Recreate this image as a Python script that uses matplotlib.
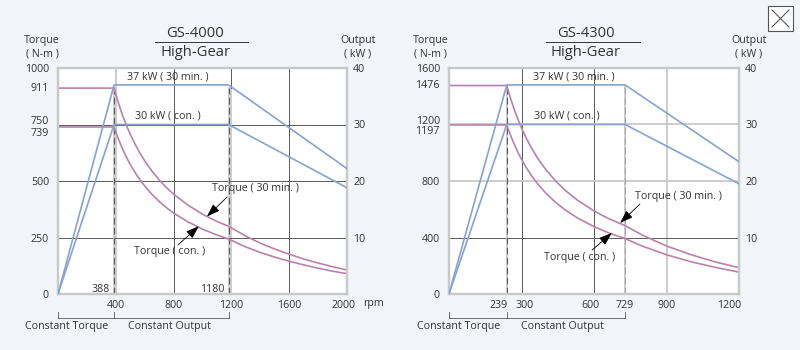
import matplotlib
matplotlib.use("Agg")
import matplotlib.pyplot as plt
from matplotlib.lines import Line2D
from matplotlib.patches import Rectangle
from matplotlib.transforms import ScaledTranslation, blended_transform_factory

# ---- GS-4000 (left) ----
gs4000_rpm = [0, 388, 400, 415, 430, 450, 475, 500, 530, 560, 600, 650, 700, 750, 800,
              900, 1000, 1100, 1180, 1300, 1400, 1500, 1600, 1700, 1800, 1900, 2000]
gs4000_torque_30 = [911, 911, 884, 852, 822, 785, 744, 707, 667, 631, 589, 544, 505, 471, 442,
                    393, 353, 321, 300, 256, 225, 199, 176, 155, 137, 121, 106]
gs4000_torque_con = [739, 739, 717, 691, 667, 637, 604, 573, 541, 512, 478, 441, 410, 382, 358,
                     319, 287, 261, 243, 208, 184, 163, 145, 129, 114, 101, 90]
gs4000_out_rpm = [0, 388, 1180, 2000]
gs4000_out_30 = [0, 37, 37, 22.2]
gs4000_out_con = [0, 30, 30, 18.8]

# ---- GS-4300 (right) ----
gs4300_rpm = [0, 239, 248, 258, 270, 285, 300, 320, 340, 365, 400, 440, 480, 530, 600, 660, 729,
              800, 900, 1000, 1100, 1200]
gs4300_torque_30 = [1476, 1476, 1422, 1367, 1307, 1238, 1176, 1102, 1038, 966, 882, 802, 735,
                    666, 588, 534, 484, 417, 340, 279, 228, 186]
gs4300_torque_con = [1197, 1197, 1154, 1109, 1060, 1004, 954, 894, 841, 784, 715, 650, 596,
                     540, 477, 433, 392, 339, 278, 229, 189, 155]
gs4300_out_rpm = [0, 239, 729, 1200]
gs4300_out_30 = [0, 37, 37, 23.4]
gs4300_out_con = [0, 30, 30, 19.5]

BG = "#f2f5f9"
TEXT = "#333333"
PURPLE = "#b982ab"
BLUE = "#86a3d3"
DARK = "#5a5a5a"
LIGHT = "#c9c9c9"
FS = 7.7

plt.rcParams["font.family"] = ["Open Sans", "DejaVu Sans"]
plt.rcParams["text.color"] = TEXT

fig = plt.figure(figsize=(8, 3.5), dpi=100, facecolor=BG)


def px(x, y):
    return x / 800, 1 - y / 350


def shift(label, dx=0, dy=0):
    label.set_transform(label.get_transform() + ScaledTranslation(dx / 100, dy / 100, fig.dpi_scale_trans))


def draw_chart(c):
    ax = fig.add_axes(c["rect"])
    ax.set_facecolor("white")
    ax.set_xlim(0, c["xmax"])
    ax.set_ylim(0, c["ymax"])
    ax2 = ax.twinx()
    ax2.set_ylim(0, 40)

    for a in (ax, ax2):
        for s in a.spines.values():
            s.set_color(LIGHT)
            s.set_linewidth(1.6)
        a.tick_params(length=0, labelsize=FS, colors=TEXT)

    top = c["torque_30"][0]

    # grid lines
    for x in c["vgrid_dark"]:
        ax.axvline(x, color=DARK, lw=0.7, zorder=1)
    for x in c["vgrid_light"]:
        ax.axvline(x, color=LIGHT, lw=1.3, zorder=1)
    for x in c["vgrid_split"]:
        ax.plot([x, x], [0, top], color=LIGHT, lw=1.3, zorder=1)
        ax.plot([x, x], [top, c["ymax"]], color=DARK, lw=0.7, zorder=1)
    for y in c["hgrid_dark"]:
        ax.axhline(y, color=DARK, lw=0.7, zorder=1)
    for y in c["hgrid_light"]:
        ax.axhline(y, color=LIGHT, lw=1.3, zorder=1)

    # dashed limits
    for x, col in zip(c["dash_x"], c["dash_col"]):
        ax.plot([x, x], [0, top], color=LIGHT, lw=1.3, zorder=1.5)
        ax.plot([x, x], [0, top], color=col, lw=0.8, dashes=(6, 3), zorder=1.6)

    ax.plot(c["rpm"], c["torque_30"], color=PURPLE, lw=1.2, zorder=3)
    ax.plot(c["rpm"], c["torque_con"], color=PURPLE, lw=1.2, zorder=3)
    ax2.plot(c["out_rpm"], c["out_30"], color=BLUE, lw=1.2, zorder=3)
    ax2.plot(c["out_rpm"], c["out_con"], color=BLUE, lw=1.2, zorder=3)

    # x ticks
    ax.set_xticks(c["xticks"])
    ax.tick_params(axis="x", pad=4)
    for lab, dx in zip(ax.get_xticklabels(), c["xtick_dx"]):
        shift(lab, dx=dx)
    for x in c["inner_ticks"]:
        ax.annotate(str(x), (x, 0), xytext=(-3, 3.6), textcoords="offset points",
                    ha="right", va="center", fontsize=FS)

    # y ticks (torque)
    ax.set_yticks(c["yticks"])
    ax.tick_params(axis="y", pad=6.5)
    for y, dy in zip(c["yextra"], c["yextra_dy"]):
        ax.annotate(str(y), (0, y), xycoords=("axes fraction", "data"),
                    xytext=(-6.5, dy), textcoords="offset points",
                    ha="right", va="center", fontsize=FS)
    ax2.set_yticks([10, 20, 30, 40])
    ax2.tick_params(axis="y", pad=4.5)

    # power labels
    ax2.annotate("37 kW ( 30 min. )", (c["kw_label_x"][0], 37), xytext=(0, 2),
                 textcoords="offset points", ha="center", va="bottom", fontsize=FS)
    ax2.annotate("30 kW ( con. )", (c["kw_label_x"][1], 30), xytext=(0, 2.5),
                 textcoords="offset points", ha="center", va="bottom", fontsize=FS)

    # torque callouts
    for text, pos, tip, tail in c["callouts"]:
        ax.text(pos[0], pos[1], text, ha="center", va="center", fontsize=FS, zorder=5)
        ax.annotate("", xy=tip, xytext=tail,
                    arrowprops=dict(arrowstyle="-|>,head_length=0.8,head_width=0.28",
                                    color="black", lw=0.6, mutation_scale=10,
                                    shrinkA=0, shrinkB=0), zorder=5)

    # bracket below
    tr = blended_transform_factory(ax.transData, ax.transAxes)
    b = c["bracket"]
    ax.plot([b[0], b[-1]], [-0.106, -0.106], color=DARK, lw=0.6, transform=tr, clip_on=False)
    for x in b:
        ax.plot([x, x], [-0.106, -0.078], color=DARK, lw=0.6, transform=tr, clip_on=False)
    for text, x in zip(["Constant Torque", "Constant Output"], c["bracket_label_x"]):
        ax.text(x, -0.146, text, transform=tr, ha="center", va="center", fontsize=FS)

    if c.get("rpm_label"):
        ax.annotate("rpm", (1, 0), xycoords="axes fraction", xytext=(11.5, -6.5),
                    textcoords="offset points", ha="left", va="center", fontsize=FS)

    # headers
    lx, rx, tx = c["header_x"]
    fig.text(*px(lx, 41), "Torque", ha="center", va="center", fontsize=FS)
    fig.text(*px(lx, 53.5), "( N-m )", ha="center", va="center", fontsize=FS)
    fig.text(*px(rx, 41), "Output", ha="center", va="center", fontsize=FS)
    fig.text(*px(rx, 53.5), "( kW )", ha="center", va="center", fontsize=FS)
    fig.text(*px(tx, 33.5), c["title"], ha="center", va="center", fontsize=10.6)
    fig.text(*px(tx, 53), "High-Gear", ha="center", va="center", fontsize=10.6)
    u0, u1 = c["underline"]
    fig.add_artist(Line2D([u0 / 800, u1 / 800], [1 - 42.3 / 350] * 2, color=TEXT, lw=0.7))


draw_chart(dict(
    rect=[58 / 800, 56 / 350, 289 / 800, 226 / 350], xmax=2000, ymax=1000,
    rpm=gs4000_rpm, torque_30=gs4000_torque_30, torque_con=gs4000_torque_con,
    out_rpm=gs4000_out_rpm, out_30=gs4000_out_30, out_con=gs4000_out_con,
    vgrid_dark=[800, 1600], vgrid_light=[400], vgrid_split=[1200],
    hgrid_dark=[250, 500, 750], hgrid_light=[],
    dash_x=[388, 1180], dash_col=[DARK, DARK],
    xticks=[400, 800, 1200, 1600, 2000], xtick_dx=[0, 0, 0, 0, -4],
    inner_ticks=[388, 1180],
    yticks=[0, 250, 500, 1000], yextra=[911, 750, 739], yextra_dy=[0, 2.5, -4.5],
    kw_label_x=[761, 761],
    callouts=[("Torque ( 30 min. )", (1370, 465), (1031, 343), (1170, 429)),
              ("Torque ( con. )", (775, 186), (975, 300), (830, 217))],
    bracket=[0, 388, 1180], bracket_label_x=[62, 775],
    rpm_label=True, header_x=(42, 358, 195), title="GS-4000", underline=(155, 248),
))

draw_chart(dict(
    rect=[449 / 800, 56 / 350, 290 / 800, 226 / 350], xmax=1200, ymax=1600,
    rpm=gs4300_rpm, torque_30=gs4300_torque_30, torque_con=gs4300_torque_con,
    out_rpm=gs4300_out_rpm, out_30=gs4300_out_30, out_con=gs4300_out_con,
    vgrid_dark=[300, 600], vgrid_light=[900], vgrid_split=[],
    hgrid_dark=[400], hgrid_light=[800, 1200],
    dash_x=[239, 729], dash_col=[DARK, "#a5a5a5"],
    xticks=[239, 300, 600, 729, 900, 1200], xtick_dx=[-8, 3, -4, 0, 0, -10],
    inner_ticks=[],
    yticks=[0, 400, 800, 1600], yextra=[1476, 1200, 1197], yextra_dy=[0, 2.5, -5],
    kw_label_x=[517, 488],
    callouts=[("Torque ( 30 min. )", (948, 687), (708, 503), (790, 637)),
              ("Torque ( con. )", (542, 255), (674, 432), (592, 311))],
    bracket=[0, 239, 729], bracket_label_x=[41, 468],
    rpm_label=False, header_x=(431, 749, 586), title="GS-4300", underline=(546, 640),
))

# close box in the corner
x0, y1 = px(768, 31)
x1, y0 = px(793, 6)
fig.add_artist(Rectangle((x0, y1), x1 - x0, y0 - y1, transform=fig.transFigure,
                         facecolor="white", edgecolor="#555555", lw=0.8))
fig.add_artist(Line2D([px(772, 0)[0], px(789, 0)[0]], [px(0, 10)[1], px(0, 27)[1]], color="#555555", lw=0.8))
fig.add_artist(Line2D([px(772, 0)[0], px(789, 0)[0]], [px(0, 27)[1], px(0, 10)[1]], color="#555555", lw=0.8))

fig.savefig("out.png", dpi=100, facecolor=BG)
